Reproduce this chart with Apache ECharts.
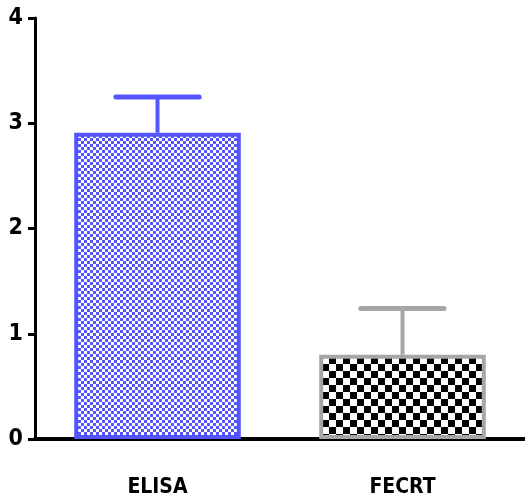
<!DOCTYPE html>
<html><head><meta charset="utf-8">
<script src="https://cdn.jsdelivr.net/npm/echarts@6/dist/echarts.min.js"></script>
<style>html,body{margin:0;padding:0;background:#fff}#c{width:525px;height:504px}</style>
</head><body><div id="c"></div>
<script>
const categories = ['ELISA', 'FECRT'];
const means = [2.91, 0.8];
const errors = [0.34, 0.44];
const yTicks = [0, 1, 2, 3, 4];

function checker(size, c1, c2) {
  const cv = document.createElement('canvas');
  cv.width = size * 2; cv.height = size * 2;
  const ctx = cv.getContext('2d');
  ctx.fillStyle = c2; ctx.fillRect(0, 0, size * 2, size * 2);
  ctx.fillStyle = c1;
  ctx.fillRect(0, 0, size, size);
  ctx.fillRect(size, size, size, size);
  return cv;
}
const fills = [
  { image: checker(3, '#5555ff', '#ffffff'), repeat: 'repeat' },
  { image: checker(7, '#000000', '#ffffff'), repeat: 'repeat' }
];
const borders = ['#5555ff', '#a6a6a8'];
const font = '"DejaVu Sans Condensed", "Liberation Sans Narrow", sans-serif';

const chart = echarts.init(document.getElementById('c'));
chart.setOption({
  animation: false,
  grid: { left: 35, right: 0, top: 18, bottom: 65 },
  xAxis: {
    type: 'category', data: categories,
    axisLine: { lineStyle: { color: '#000', width: 4 } },
    axisTick: { alignWithLabel: true, length: 12, lineStyle: { color: '#000', width: 2 } },
    axisLabel: { margin: 38, fontSize: 21, fontWeight: 'bold', color: '#000', fontFamily: font }
  },
  yAxis: {
    type: 'value', min: yTicks[0], max: yTicks[yTicks.length - 1], interval: 1,
    splitLine: { show: false },
    axisLine: { show: true, lineStyle: { color: '#000', width: 3 } },
    axisTick: { show: true, length: 7, lineStyle: { color: '#000', width: 3 } },
    axisLabel: { margin: 12, fontSize: 23, fontWeight: 'bold', color: '#000', fontFamily: font }
  },
  series: [
    {
      type: 'custom',
      z: 1,
      data: means.map((m, i) => [i, m, m + errors[i]]),
      renderItem: function (params, api) {
        const i = api.value(0);
        const top = api.coord([i, api.value(2)]);
        const base = api.coord([i, api.value(1)]);
        const bw = api.size([1, 0])[0];
        const half = bw * 0.17;
        const col = borders[params.dataIndex];
        return {
          type: 'group', children: [
            { type: 'line', shape: { x1: top[0], y1: top[1], x2: base[0], y2: base[1] }, style: { stroke: col, lineWidth: 4 } },
            { type: 'line', shape: { x1: top[0] - half, y1: top[1], x2: top[0] + half, y2: top[1] }, style: { stroke: col, lineWidth: 5, lineCap: 'round' } }
          ]
        };
      }
    },
    {
      type: 'bar', z: 2,
      barWidth: '68%',
      data: means.map((m, i) => ({
        value: m,
        itemStyle: { color: fills[i], borderColor: borders[i], borderWidth: 4 }
      }))
    }
  ]
});
</script></body></html>
